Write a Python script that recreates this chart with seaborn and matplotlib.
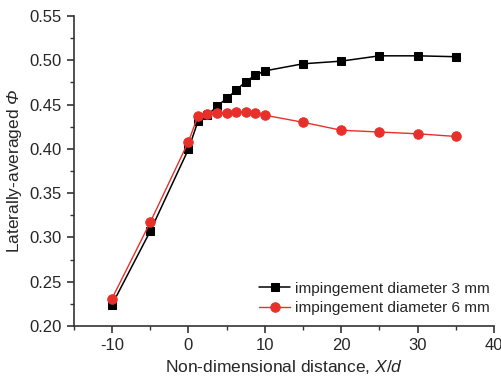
import matplotlib
matplotlib.use("Agg")
import matplotlib.pyplot as plt
import seaborn as sns
import pandas as pd
from matplotlib.ticker import MultipleLocator, FormatStrFormatter

x_vals = [-10, -5, 0, 1.25, 2.5, 3.75, 5, 6.25, 7.5, 8.75, 10, 15, 20, 25, 30, 35]
phi_3mm = [0.224, 0.307, 0.3995, 0.431, 0.438, 0.448, 0.457, 0.466, 0.476, 0.483, 0.488, 0.496, 0.499, 0.505, 0.505, 0.504]
phi_6mm = [0.231, 0.317, 0.408, 0.437, 0.439, 0.441, 0.441, 0.4415, 0.4415, 0.4405, 0.438, 0.430, 0.421, 0.419, 0.417, 0.414]
labels = ["impingement diameter 3 mm", "impingement diameter 6 mm"]

sns.set_style("ticks")
plt.rcParams['font.family'] = ['Liberation Sans', 'DejaVu Sans']
plt.rcParams['mathtext.fontset'] = 'custom'
plt.rcParams['mathtext.it'] = 'Liberation Sans:italic'
plt.rcParams['mathtext.sf'] = 'Liberation Sans:italic'
plt.rcParams['mathtext.rm'] = 'Liberation Sans'
plt.rcParams['axes.unicode_minus'] = False

fig = plt.figure(figsize=(5.02, 3.80), dpi=100)
ax = fig.add_axes([0.147, 0.142, 0.837, 0.816])

df1 = pd.DataFrame({"x": x_vals, "y": phi_3mm})
df2 = pd.DataFrame({"x": x_vals, "y": phi_6mm})
sns.lineplot(data=df1, x="x", y="y", ax=ax, color="black", marker="s", markersize=6,
             markeredgecolor="black", linewidth=1.1, label=labels[0])
sns.lineplot(data=df2, x="x", y="y", ax=ax, color="#e8302a", marker="o", markersize=6.8,
             markeredgecolor="#e8302a", linewidth=1.0, label=labels[1])

ax.set_xlim(-15, 40)
ax.set_ylim(0.20, 0.55)
ax.xaxis.set_major_locator(MultipleLocator(10))
ax.xaxis.set_minor_locator(MultipleLocator(5))
ax.yaxis.set_major_locator(MultipleLocator(0.05))
ax.yaxis.set_minor_locator(MultipleLocator(0.025))
ax.yaxis.set_major_formatter(FormatStrFormatter('%.2f'))
ax.tick_params(which='major', length=5, width=1.2, labelsize=12, direction='out', color='#333333')
ax.tick_params(which='minor', length=3, width=1.0, direction='out', color='#333333')
for s in ['top', 'right']:
    ax.spines[s].set_visible(False)
for s in ['left', 'bottom']:
    ax.spines[s].set_linewidth(1.2)
    ax.spines[s].set_color('#333333')

ax.set_xlabel("Non-dimensional distance, $X/d$", fontsize=12.5)
ax.set_ylabel("Laterally-averaged $\\mathsf{Φ}$", fontsize=12.5)

ax.legend(loc='lower right', frameon=False, fontsize=11.1, handlelength=2.0,
          handletextpad=0.3, borderaxespad=0.3, labelspacing=0.35, bbox_to_anchor=(1.015, 0.0))

fig.savefig("out.png", dpi=100)
